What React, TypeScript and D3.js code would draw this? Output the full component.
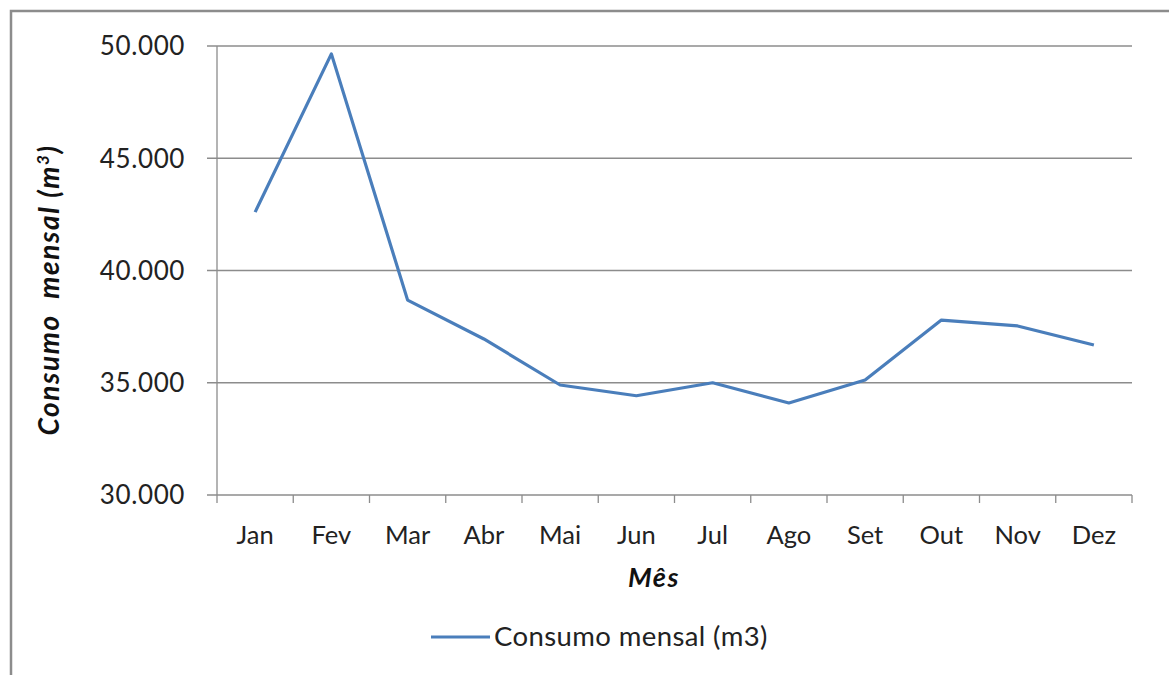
import React from "react";
import * as d3 from "d3";

const months = ["Jan", "Fev", "Mar", "Abr", "Mai", "Jun", "Jul", "Ago", "Set", "Out", "Nov", "Dez"];
const consumo = [42600, 49650, 38680, 36950, 34900, 34420, 35000, 34100, 35120, 37790, 37530, 36680];
const yTicks = [30000, 35000, 40000, 45000, 50000];
const seriesName = "Consumo mensal (m3)";

const W = 1169, H = 675;
const left = 217, right = 1132, top = 46, bottom = 495;
const FONT = "Lato, 'Open Sans', sans-serif";
const LINE = "#4A7EBB";

export default function App() {
  const x = d3.scaleBand<string>().domain(months).range([left, right]);
  const y = d3.scaleLinear().domain([30000, 50000]).range([bottom, top]);
  const fmt = (v: number) => d3.format(",")(v).replace(/,/g, ".");
  const line = d3
    .line<number>()
    .x((_, i) => (x(months[i]) as number) + x.bandwidth() / 2)
    .y((d) => y(d));
  const boundaries = months.map((m) => x(m) as number).concat([right]);

  return (
    <svg width={W} height={H} style={{ position: "absolute", left: 0, top: 0 }}>
      <rect x={0} y={0} width={W} height={H} fill="#fff" />
      <path d={`M11,${H + 5} V11 H${W + 5}`} fill="none" stroke="#8c8c8c" strokeWidth={2.5} />
      {yTicks.map((t) => (
        <g key={t}>
          <line x1={207} x2={right} y1={y(t)} y2={y(t)} stroke="#8c8c8c" strokeWidth={1.3} />
          <text x={185} y={y(t)} dy="0.36em" textAnchor="end" fontFamily={FONT} fontSize={26} letterSpacing={0.6} fill="#222">
            {fmt(t)}
          </text>
        </g>
      ))}
      <line x1={left} x2={left} y1={top} y2={bottom} stroke="#8c8c8c" strokeWidth={1.3} />
      {boundaries.map((b, i) => (
        <line key={i} x1={b} x2={b} y1={bottom} y2={bottom + 8} stroke="#8c8c8c" strokeWidth={1.3} />
      ))}
      {months.map((m) => (
        <text key={m} x={(x(m) as number) + x.bandwidth() / 2} y={544} textAnchor="middle" fontFamily={FONT} fontSize={25.5} fill="#222">
          {m}
        </text>
      ))}
      <path d={line(consumo) || ""} fill="none" stroke={LINE} strokeWidth={3.2} strokeLinejoin="round" />
      <text x={654} y={587} textAnchor="middle" fontFamily={FONT} fontSize={27} letterSpacing={1.5} fontWeight="bold" fontStyle="italic" fill="#111">
        Mês
      </text>
      <text transform="translate(59,290) rotate(-90)" textAnchor="middle" fontFamily={FONT} fontSize={28} letterSpacing={1.6} fontWeight="bold" fontStyle="italic" fill="#111">
        Consumo{"\u00a0"} mensal (m<tspan dy={-10} fontSize={17}>3</tspan><tspan dy={10}>)</tspan>
      </text>
      <line x1={431} x2={490} y1={637} y2={637} stroke={LINE} strokeWidth={3.2} />
      <text x={494} y={646} fontFamily={FONT} fontSize={27.5} letterSpacing={0.4} fill="#222">
        {seriesName}
      </text>
    </svg>
  );
}
